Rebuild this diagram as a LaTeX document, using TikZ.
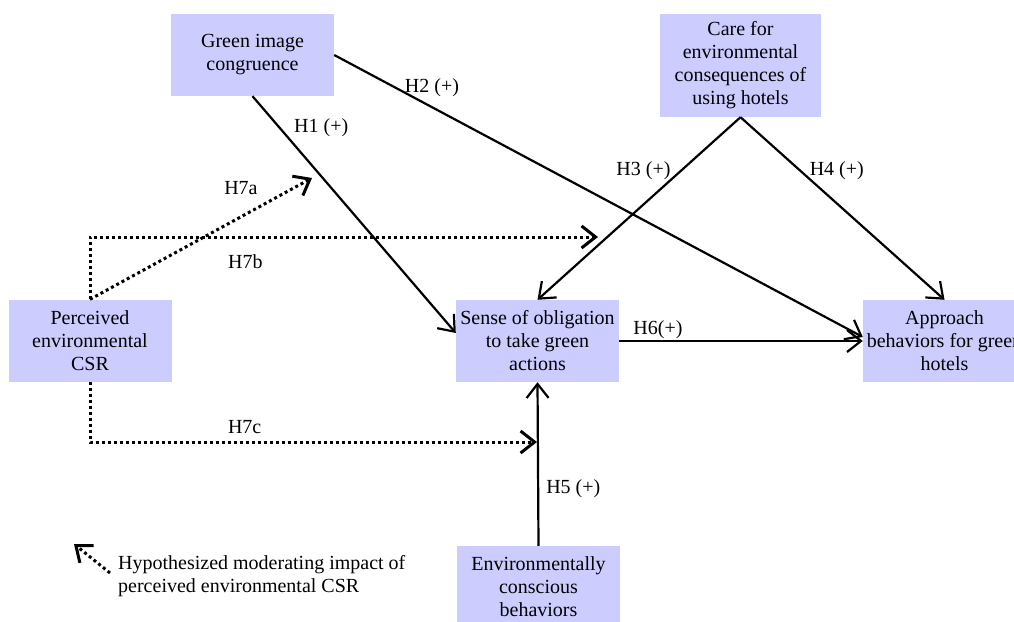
\documentclass[tikz,border=0pt]{standalone}
\usepackage{fontspec}
\setmainfont{Liberation Serif}
\usepackage{xcolor}
\usetikzlibrary{arrows.meta}
\definecolor{boxfill}{RGB}{204,204,255}

\begin{document}
\begin{tikzpicture}[x=1pt,y=-1pt,>={Straight Barb[length=14pt,width=22pt]},
  font=\fontsize{20}{23}\selectfont,
  box/.style={fill=boxfill,minimum width=163pt,minimum height=82pt,inner sep=0pt,align=center},
  hyp/.style={->,line width=2.2pt},
  moder/.style={->,line width=3pt,dash pattern=on 3pt off 3pt},
  lab/.style={inner sep=1pt}]
  \useasboundingbox (0,0) rectangle (1014,621);

  \node[box]         (gic)   at (252.5,55)  {Green image\\congruence};
  \node[box,minimum width=161pt,minimum height=103pt] (care) at (740.5,65.5)
                                            {Care for\\environmental\\consequences of\\using hotels};
  \node[box]         (csr)   at (90,340.5)  {Perceived\\environmental\\CSR};
  \node[box]         (oblig) at (537.5,341) {Sense of obligation\\to take green\\actions};
  \node[box]         (appr)  at (944.5,341) {Approach\\behaviors for green\\hotels};
  \node[box]         (ecb)   at (538.5,587) {Environmentally\\conscious\\behaviors};
  \node[inner sep=0pt,anchor=west,align=left] (legend) at (118,576)
                                            {Hypothesized moderating impact of\\perceived environmental CSR};

  \coordinate (h7a) at (312,178);
  \coordinate (h7b) at (598,237);
  \coordinate (h7c) at (537,442);
  \coordinate (legtail) at (110,573);
  \coordinate (legtip)  at (74,544);

  \path[hyp] (gic.south) edge node[lab,pos=.18,anchor=south west,xshift=3pt] {H1 (+)} ([yshift=8pt]oblig.west)
        (gic.east)  edge node[lab,pos=.185,above=8pt] {H2 (+)} ([yshift=4pt]appr.west)
        (care.south) edge node[lab,pos=.295,left=8pt] {H3 (+)} (oblig.north)
                     edge node[lab,pos=.295,right=7pt] {H4 (+)} (appr.north)
        (ecb.north) edge node[lab,pos=.35,right=6pt] {H5 (+)} (oblig.south)
        (oblig.east) edge node[lab,pos=.05,anchor=south west] {H6(+)} (appr.west);

  \draw[moder] (csr.north) -- node[lab,pos=.68,above=20pt] {H7a} (h7a);
  \draw[moder] (csr.north) |- node[lab,pos=.653,below=15pt] {H7b} (h7b);
  \draw[moder] (csr.south) |- node[lab,pos=.673,above=6pt] {H7c} (h7c);
  \draw[moder] (legtail) -- (legtip);
\end{tikzpicture}
\end{document}
